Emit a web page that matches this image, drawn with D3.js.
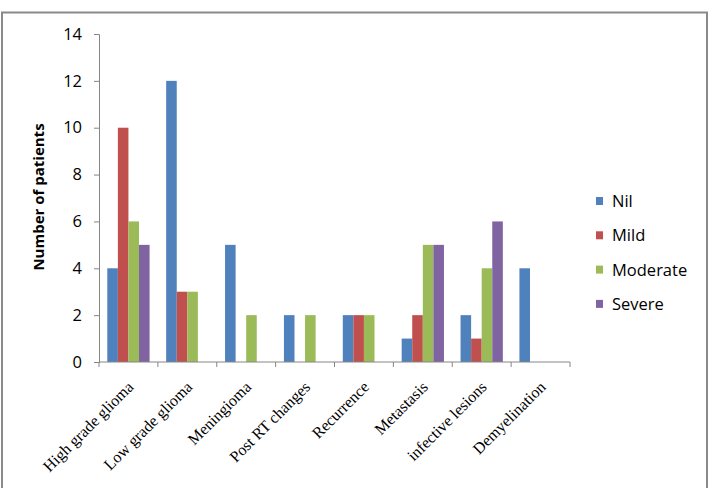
<!DOCTYPE html>
<html>
<head>
<meta charset="utf-8">
<script src="https://cdn.jsdelivr.net/npm/d3@7"></script>
<style>
  body { margin: 0; background: #fff; }
  svg { display: block; }
</style>
</head>
<body>
<div id="chart"></div>
<script>
var categories = ["High grade glioma", "Low grade glioma", "Meningioma", "Post RT changes", "Recurrence", "Metastasis", "infective lesions", "Demyelination"];
var seriesNames = ["Nil", "Mild", "Moderate", "Severe"];
var nil = [4, 12, 5, 2, 2, 1, 2, 4];
var mild = [10, 3, 0, 0, 2, 2, 1, 0];
var moderate = [6, 3, 2, 2, 2, 5, 4, 0];
var severe = [5, 0, 0, 0, 0, 5, 6, 0];
var yTicks = [0, 2, 4, 6, 8, 10, 12, 14];

var colors = ["#4f81bd", "#c0504d", "#9bbb59", "#8064a2"];
var seriesValues = [nil, mild, moderate, severe];

let width = 714, height = 488;
let plot = {left: 99, right: 570, top: 34, bottom: 362};

let svg = d3.select("#chart")
    .append("svg")
    .attr("width", width)
    .attr("height", height);

// outer frame
svg.append("rect")
    .attr("x", 2)
    .attr("y", 12.5)
    .attr("width", 705)
    .attr("height", 500)
    .attr("fill", "none")
    .attr("stroke", "#8a8a8a")
    .attr("stroke-width", 2);

let x0 = d3.scaleBand()
    .domain(categories)
    .range([plot.left, plot.right])
    .paddingInner(0)
    .paddingOuter(0);

let x1 = d3.scaleBand()
    .domain(seriesNames)
    .range([8.3, x0.bandwidth() - 8.3]);

let y = d3.scaleLinear()
    .domain([0, 14])
    .range([plot.bottom, plot.top]);

// bars
let groups = svg.selectAll(".grp")
    .data(categories)
    .enter()
    .append("g")
    .attr("transform", d => `translate(${x0(d)}, 0)`);

groups.selectAll("rect")
    .data((d, i) => seriesNames.map((s, j) => ({s: s, v: seriesValues[j][i], c: colors[j]})))
    .enter()
    .append("rect")
    .attr("x", d => x1(d.s))
    .attr("y", d => y(d.v))
    .attr("width", x1.bandwidth())
    .attr("height", d => y(0) - y(d.v))
    .attr("fill", d => d.c);

// y axis
let yAxis = svg.append("g")
    .attr("transform", `translate(${plot.left}, 0)`)
    .call(d3.axisLeft(y).tickValues(yTicks).tickSize(5).tickPadding(12).tickFormat(d3.format("d")));
yAxis.selectAll("path, line").attr("stroke", "#868686");
yAxis.selectAll("text")
    .style("font-family", "'Open Sans', sans-serif")
    .style("font-size", "16.5px")
    .attr("fill", "#000");

// x axis: ticks at category boundaries
let xAxis = svg.append("g")
    .attr("transform", `translate(0, ${plot.bottom})`);
xAxis.append("line")
    .attr("x1", plot.left).attr("x2", plot.right)
    .attr("stroke", "#868686");
xAxis.selectAll(".tick")
    .data(d3.range(categories.length + 1))
    .enter()
    .append("line")
    .attr("x1", i => plot.left + i * x0.step())
    .attr("x2", i => plot.left + i * x0.step())
    .attr("y1", 0).attr("y2", 5)
    .attr("stroke", "#868686");

svg.selectAll(".xlab")
    .data(categories)
    .enter()
    .append("text")
    .attr("transform", d => `translate(${x0(d) + x0.bandwidth() / 2 + 6}, 388) rotate(-45)`)
    .attr("text-anchor", "end")
    .style("font-family", "'Liberation Serif', 'Times New Roman', serif")
    .style("font-size", "16px")
    .attr("fill", "#000")
    .text(d => d);

// y axis title
svg.append("text")
    .attr("transform", "translate(44, 197) rotate(-90)")
    .attr("text-anchor", "middle")
    .style("font-family", "'Open Sans', sans-serif")
    .style("font-size", "15px")
    .style("font-weight", "bold")
    .text("Number of patients");

// legend
let legend = svg.selectAll(".leg")
    .data(seriesNames)
    .enter()
    .append("g")
    .attr("transform", (d, i) => `translate(596, ${201 + i * 34.3})`);
legend.append("rect")
    .attr("x", 0).attr("y", -4)
    .attr("width", 7).attr("height", 8)
    .attr("fill", (d, i) => colors[i]);
legend.append("text")
    .attr("x", 16)
    .attr("y", 0)
    .attr("dy", "0.36em")
    .style("font-family", "'Open Sans', sans-serif")
    .style("font-size", "16.5px")
    .text(d => d);
</script>
</body>
</html>
